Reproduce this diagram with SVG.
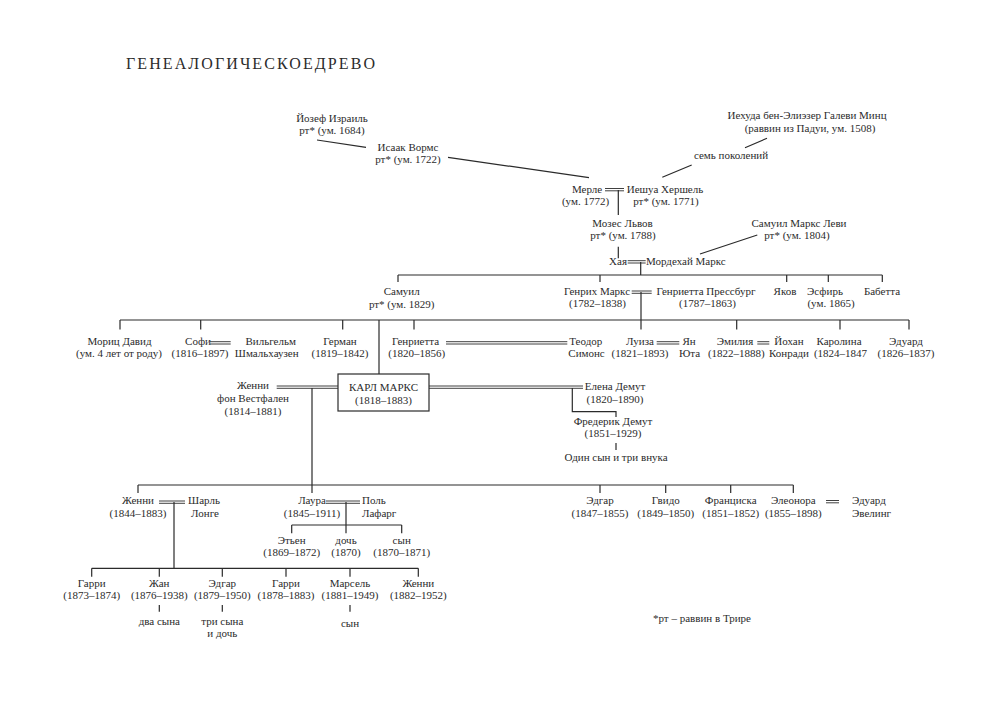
<svg xmlns="http://www.w3.org/2000/svg" width="1000" height="712" viewBox="0 0 1000 712">
<style>
text{font-family:"Liberation Serif","Times New Roman",serif;font-size:11px;fill:#2b2b2b;text-anchor:middle}
.s{text-anchor:start}
.e{text-anchor:end}
.t{font-size:16px;text-anchor:start}
.l{stroke:#2b2b2b;stroke-width:1.2;fill:none}
.d{stroke:#2b2b2b;stroke-width:0.9;fill:none}
.box{stroke:#2b2b2b;stroke-width:1.2;fill:#fff}
</style>
<rect width="1000" height="712" fill="#fff"/>
<text class="t" x="126" y="69" textLength="249" lengthAdjust="spacing">ГЕНЕАЛОГИЧЕСКОЕДРЕВО</text>

<g id="connectors">
<path class="l" d="M317,140 L366,147.3 M448,157.3 L589,177.7 M767,138.3 L745,147.7 M691.7,165 L662.3,177.3 M757.3,235 L700,254"/>
<path class="d" d="M605,188.5 H624 M605,190.8 H624"/>
<path class="l" d="M618.3,190 V215 M618.3,246.7 V258.3"/>
<path class="d" d="M627.7,260.7 H645.7 M627.7,263 H645.7"/>
<path class="l" d="M640.7,262 V275 M398,275 H882.3 M398,275 V282 M600,275 V282 M786.7,275 V282 M828.3,275 V282 M882.3,275 V282"/>
<path class="d" d="M631.7,291 H651.7 M631.7,293.3 H651.7"/>
<path class="l" d="M641,292 V329.5 M120,320 H909 M120,320 V329.5 M200.7,320 V329.5 M342.7,320 V329.5 M414,320 V329.5 M736.7,320 V329.5 M840,320 V329.5 M909,320 V329.5 M379,320 V374"/>
<path class="d" d="M210,341.7 H230.7 M210,344 H230.7 M446,341.7 H567.3 M446,344 H567.3 M656.7,341.7 H679.3 M656.7,344 H679.3 M757.3,341.7 H769.3 M757.3,344 H769.3"/>
<path class="d" d="M276.7,386 H338 M276.7,388.3 H338 M429,386 H583 M429,388.3 H583"/>
<path class="l" d="M572.3,388 V411.7 H616 V417 M616,443 V450"/>
<path class="l" d="M312,388 V485 M138,485 H793.3 M138,485 V493 M312,485 V493 M600,485 V493 M665.7,485 V493 M730.7,485 V493 M793.3,485 V493"/>
<path class="d" d="M159,501 H185 M159,503.3 H185 M326,501 H360 M326,503.3 H360 M826,500.5 H839 M826,502.8 H839"/>
<path class="l" d="M174,502 V568.3 M91.7,568.3 H418.3 M91.7,568.3 V576.7 M159.3,568.3 V576.7 M222.3,568.3 V576.7 M286,568.3 V576.7 M350,568.3 V576.7 M418.3,568.3 V576.7"/>
<path class="l" d="M346,502 V533.3 M291.7,525 H401.7 M291.7,525 V533.3 M401.7,525 V533.3"/>
<path class="l" d="M159.3,605 V611.7 M222.3,605 V611.7 M350,605 V611.7"/>
</g>

<g id="n-iozef"><text x="332" y="122">Йозеф Израиль</text><text x="332" y="134">рт* (ум. 1684)</text></g>
<g id="n-isaak"><text x="408" y="151">Исаак Вормс</text><text x="408" y="163">рт* (ум. 1722)</text></g>
<g id="n-iehuda"><text x="807" y="119">Иехуда бен-Элиэзер Галеви Минц</text><text x="810" y="132">(раввин из Падуи, ум. 1508)</text></g>
<g id="n-sem"><text x="731" y="159">семь поколений</text></g>
<g id="n-merle"><text x="587" y="193">Мерле</text><text x="585.5" y="204.5">(ум. 1772)</text></g>
<g id="n-ieshua"><text x="665" y="193">Иешуа Хершель</text><text x="666" y="204.5">рт* (ум. 1771)</text></g>
<g id="n-mozes"><text x="622.5" y="227">Мозес Львов</text><text x="623" y="239">рт* (ум. 1788)</text></g>
<g id="n-samuil-levi"><text x="799" y="227">Самуил Маркс Леви</text><text x="797" y="239">рт* (ум. 1804)</text></g>
<g id="n-haya"><text class="e" x="627" y="265">Хая</text></g>
<g id="n-mordehai"><text class="s" x="646" y="265">Мордехай Маркс</text></g>
<g id="n-samuil"><text x="401.7" y="295">Самуил</text><text x="401.7" y="307.5">рт* (ум. 1829)</text></g>
<g id="n-genrih"><text x="597" y="295">Генрих Маркс</text><text x="597.5" y="306.7">(1782–1838)</text></g>
<g id="n-genrietta-p"><text x="706" y="295">Генриетта Прессбург</text><text x="707.5" y="306.7">(1787–1863)</text></g>
<g id="n-yakov"><text x="785" y="295">Яков</text></g>
<g id="n-esfir"><text x="825" y="295">Эсфирь</text><text x="831" y="306.7">(ум. 1865)</text></g>
<g id="n-babetta"><text x="882" y="295">Бабетта</text></g>

<g id="n-moric"><text x="119.5" y="345">Мориц Давид</text><text x="119" y="357.3">(ум. 4 лет от роду)</text></g>
<g id="n-sofi"><text x="198" y="345">Софи</text><text x="200" y="357.3">(1816–1897)</text></g>
<g id="n-vilgelm"><text x="270.7" y="345">Вильгельм</text><text x="266.7" y="357.3">Шмальхаузен</text></g>
<g id="n-german"><text x="340" y="345">Герман</text><text x="340" y="357.3">(1819–1842)</text></g>
<g id="n-genrietta"><text x="415.5" y="345">Генриетта</text><text x="416.7" y="357.3">(1820–1856)</text></g>
<g id="n-teodor"><text class="s" x="569.3" y="345">Теодор</text><text class="s" x="568.3" y="357.3">Симонс</text></g>
<g id="n-luiza"><text x="640" y="345">Луиза</text><text x="640" y="357.3">(1821–1893)</text></g>
<g id="n-yan"><text x="689" y="345">Ян</text><text x="689.6" y="357.3">Юта</text></g>
<g id="n-emilia"><text x="735" y="345">Эмилия</text><text x="736.3" y="357.3">(1822–1888)</text></g>
<g id="n-iohan"><text x="789" y="345">Йохан</text><text x="789" y="357.3">Конради</text></g>
<g id="n-karolina"><text x="839" y="345">Каролина</text><text x="840.5" y="357.3">(1824–1847</text></g>
<g id="n-eduard"><text x="906" y="345">Эдуард</text><text x="906" y="357.3">(1826–1837)</text></g>

<g id="n-jenny-w"><text x="253" y="389">Женни</text><text x="253" y="402">фон Вестфален</text><text x="253" y="415">(1814–1881)</text></g>
<g id="n-karl"><rect class="box" x="338" y="374" width="91" height="37"/><text x="383.5" y="391">КАРЛ МАРКС</text><text x="383.5" y="403.5">(1818–1883)</text></g>
<g id="n-elena"><text x="615" y="390">Елена Демут</text><text x="615" y="403">(1820–1890)</text></g>
<g id="n-frederik"><text x="613" y="425">Фредерик Демут</text><text x="613" y="437">(1851–1929)</text></g>
<g id="n-odin"><text x="616" y="461">Один сын и три внука</text></g>

<g id="n-jenny-d"><text x="138" y="504">Женни</text><text x="138" y="516.7">(1844–1883)</text></g>
<g id="n-sharl"><text x="204" y="504">Шарль</text><text x="205" y="517">Лонге</text></g>
<g id="n-laura"><text x="312" y="504">Лаура</text><text x="312" y="516.7">(1845–1911)</text></g>
<g id="n-pol"><text class="s" x="362" y="504">Поль</text><text class="s" x="362" y="517">Лафарг</text></g>
<g id="n-edgar"><text x="600" y="504">Эдгар</text><text x="600" y="516.7">(1847–1855)</text></g>
<g id="n-gvido"><text x="665.7" y="504">Гвидо</text><text x="665.7" y="516.7">(1849–1850)</text></g>
<g id="n-franciska"><text x="730.7" y="504">Франциска</text><text x="730.7" y="516.7">(1851–1852)</text></g>
<g id="n-eleonora"><text x="793.3" y="504">Элеонора</text><text x="793.3" y="516.7">(1855–1898)</text></g>
<g id="n-eveling"><text class="s" x="852" y="504">Эдуард</text><text class="s" x="852" y="516.7">Эвелинг</text></g>

<g id="n-etien"><text x="291.7" y="544">Этьен</text><text x="291.7" y="556">(1869–1872)</text></g>
<g id="n-doch"><text x="346" y="544">дочь</text><text x="346" y="556">(1870)</text></g>
<g id="n-syn"><text x="401.7" y="544">сын</text><text x="401.7" y="556">(1870–1871)</text></g>

<g id="n-garri1"><text x="91.7" y="587.3">Гарри</text><text x="91.7" y="599.3">(1873–1874)</text></g>
<g id="n-zhan"><text x="159.3" y="587.3">Жан</text><text x="159.3" y="599.3">(1876–1938)</text><text x="159.3" y="625">два сына</text></g>
<g id="n-edgar2"><text x="222.3" y="587.3">Эдгар</text><text x="222.3" y="599.3">(1879–1950)</text><text x="222.3" y="625">три сына</text><text x="222.3" y="637">и дочь</text></g>
<g id="n-garri2"><text x="286" y="587.3">Гарри</text><text x="286" y="599.3">(1878–1883)</text></g>
<g id="n-marsel"><text x="350" y="587.3">Марсель</text><text x="350" y="599.3">(1881–1949)</text><text x="350" y="627">сын</text></g>
<g id="n-jenny2"><text x="418.3" y="587.3">Женни</text><text x="418.3" y="599.3">(1882–1952)</text></g>

<g id="footnote"><text x="702" y="622">*рт – раввин в Трире</text></g>
</svg>
